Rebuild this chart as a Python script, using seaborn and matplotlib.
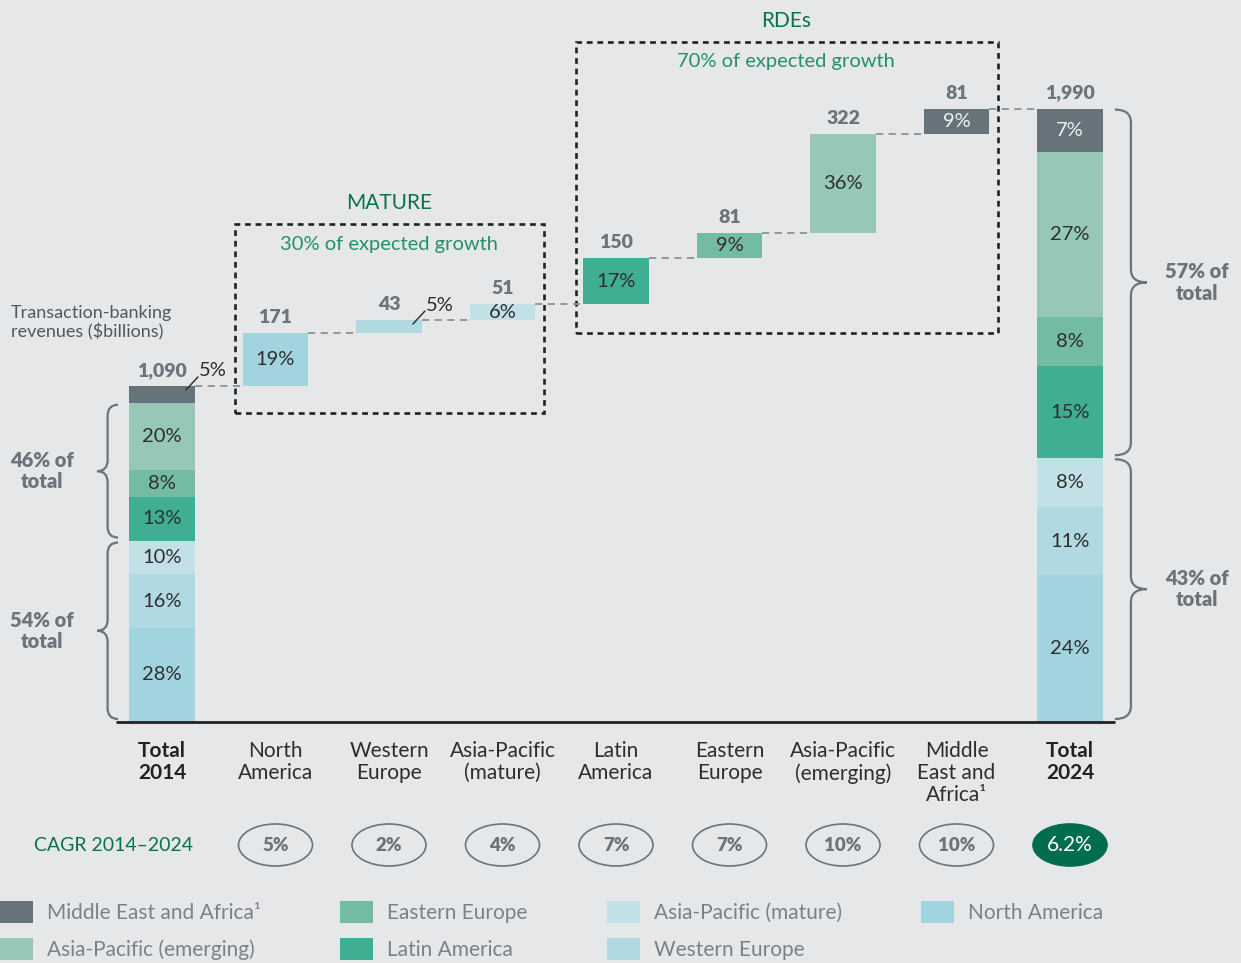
import matplotlib
matplotlib.use("Agg")
import numpy as np
import pandas as pd
import matplotlib.pyplot as plt
from matplotlib.patches import Ellipse, Rectangle, Patch, PathPatch
from matplotlib.path import Path
import seaborn as sns

# ── data ──────────────────────────────────────────────────────────────────────
regions = ["North America", "Western Europe", "Asia-Pacific (mature)", "Latin America",
           "Eastern Europe", "Asia-Pacific (emerging)", "Middle East and Africa¹"]
tick_labels = ["Total\n2014", "North\nAmerica", "Western\nEurope", "Asia-Pacific\n(mature)",
               "Latin\nAmerica", "Eastern\nEurope", "Asia-Pacific\n(emerging)",
               "Middle\nEast and\nAfrica¹", "Total\n2024"]
share_2014 = [28, 16, 10, 13, 8, 20, 5]        # % of 2014 total
share_2024 = [24, 11, 8, 15, 8, 27, 7]         # % of 2024 total
growth = [171, 43, 51, 150, 81, 322, 81]       # $bn added 2014-2024
growth_share = [19, 5, 6, 17, 9, 36, 9]        # % of total growth
total_2014, total_2024 = 1090, 1990
cagr = ["5%", "2%", "4%", "7%", "7%", "10%", "10%", "6.2%"]
brace_left = [("54% of\ntotal", 0, 54), ("46% of\ntotal", 54, 95)]
brace_right = [("43% of\ntotal", 0, 43), ("57% of\ntotal", 43, 100)]

colors = {"North America": "#a2d4e0", "Western Europe": "#b1d9e2",
          "Asia-Pacific (mature)": "#c2e1e7", "Latin America": "#3fae92",
          "Eastern Europe": "#74bba4", "Asia-Pacific (emerging)": "#97c8b7",
          "Middle East and Africa¹": "#67737a"}

BG = "#e6e7e9"
GREY = "#6b747a"
DARK = "#2e2e2e"
GREEN = "#0b7050"
GREEN_LT = "#23906a"

sns.set_theme(style="white")
plt.rcParams["font.family"] = ["Lato", "DejaVu Sans"]

# ── canvas: one axes over the whole figure, x = category index, y = $bn ───────
W, H = 1241, 963
X0PX, STEP = 162, 113.5            # px of first bar centre, px per category
BASE_PX, PPU = 722, 336 / 1090     # baseline px, px per $bn
px = lambda v: v / STEP
py = lambda v: v / PPU

fig = plt.figure(figsize=(W / 100, H / 100), dpi=100, facecolor=BG)
ax = fig.add_axes([0, 0, 1, 1])
ax.set_facecolor(BG)

# ── segments ──────────────────────────────────────────────────────────────────
rows = []
b = 0
for r, s in zip(regions, share_2014):
    h = total_2014 * s / 100
    rows.append(dict(x=0, bottom=b, height=h, region=r, pct=s)); b += h
level = total_2014
for i, (r, g, s) in enumerate(zip(regions, growth, growth_share), start=1):
    rows.append(dict(x=i, bottom=level, height=g, region=r, pct=s)); level += g
b = 0
for r, s in zip(regions, share_2024):
    h = total_2024 * s / 100
    rows.append(dict(x=8, bottom=b, height=h, region=r, pct=s)); b += h
segs = pd.DataFrame(rows)

BAR_W = 0.58
for _, sg in segs.iterrows():
    sns.barplot(x=[sg["x"]], y=[sg["height"]], bottom=sg["bottom"], native_scale=True,
                width=BAR_W, color=colors[sg["region"]], saturation=1, errorbar=None,
                edgecolor="none", linewidth=0, ax=ax)

# percent labels
outside = {(0, "Middle East and Africa¹"), (2, "Western Europe")}
for _, sg in segs.iterrows():
    top = sg["bottom"] + sg["height"]
    if (sg["x"], sg["region"]) in outside:
        x1, y1 = sg["x"] + BAR_W / 2 - px(9), top - py(4)
        x2, y2 = x1 + px(12), y1 + py(13)
        ax.plot([x1, x2], [y1, y2], color="#333333", lw=1.1)
        ax.text(x2 + px(1), y2 + py(6), f"{sg['pct']}%", ha="left", va="center",
                fontsize=14.5, color=DARK)
    else:
        tc = "#eef0f1" if sg["region"].startswith("Middle") else DARK
        ax.text(sg["x"], sg["bottom"] + sg["height"] / 2, f"{sg['pct']}%",
                ha="center", va="center", fontsize=14.5, color=tc)

# value labels + connectors
tops = np.concatenate([[total_2014], total_2014 + np.cumsum(growth)])
vals = [total_2014] + growth + [total_2024]
top_pos = list(tops) + [total_2024]
for i, (v, t) in enumerate(zip(vals, top_pos)):
    ax.text(i, t + py(7), f"{v:,}", ha="center", va="bottom", fontsize=14,
            fontweight="heavy", color=GREY)
for i, t in enumerate(tops):
    ax.hlines(t, i + BAR_W / 2, i + 1 - BAR_W / 2, color="#8c9196", lw=1.3,
              linestyle=(0, (4, 3)))

ax.hlines(0, -0.405, 8.4, color="#222222", lw=2)

# ── group boxes ──────────────────────────────────────────────────────────────
for (first, last, y0, y1, title, sub) in [(1, 3, 1002, 1615, "MATURE", "30% of expected growth"),
                                          (4, 7, 1262, 2206, "RDEs", "70% of expected growth")]:
    x0, x1 = first - 0.355, last + 0.365
    ax.add_patch(Rectangle((x0, y0), x1 - x0, y1 - y0, fill=False, ec="#222222",
                           lw=1.9, ls=(0, (2.2, 1.8))))
    xc = (first + last) / 2
    ax.text(xc, y1 + py(21), title, ha="center", va="center", fontsize=15, color=GREEN)
    ax.text(xc, y1 - py(20), sub, ha="center", va="center", fontsize=14.5, color=GREEN_LT)

# ── braces ───────────────────────────────────────────────────────────────────
def brace(x_end, x_tip, y0, y1, r=py(11)):
    xs = (x_end + x_tip) / 2
    ym = (y0 + y1) / 2
    verts = [(x_end, y1), (xs, y1), (xs, y1 - r),
             (xs, ym + r), (xs, ym), (x_tip, ym),
             (xs, ym), (xs, ym - r),
             (xs, y0 + r), (xs, y0), (x_end, y0)]
    codes = [Path.MOVETO, Path.CURVE3, Path.CURVE3, Path.LINETO, Path.CURVE3, Path.CURVE3,
             Path.CURVE3, Path.CURVE3, Path.LINETO, Path.CURVE3, Path.CURVE3]
    ax.add_patch(PathPatch(Path(verts, codes), fill=False, ec=GREY, lw=1.6))

for label, lo, hi in brace_left:
    y0 = total_2014 * lo / 100 + py(3)
    y1 = total_2014 * hi / 100 - py(2)
    xe = -BAR_W / 2 - px(11)
    brace(xe, xe - px(21), y0, y1)
    ax.text(-1.057, (y0 + y1) / 2, label, ha="center", va="center", fontsize=14.5,
            fontweight="heavy", color=GREY, linespacing=1.15)
for label, lo, hi in brace_right:
    y0 = total_2024 * lo / 100 + py(3)
    y1 = total_2024 * hi / 100 - py(1)
    xe = 8 + BAR_W / 2 + px(12)
    brace(xe, xe + px(32), y0, y1, r=py(13))
    ax.text(9.119, (y0 + y1) / 2, label, ha="center", va="center", fontsize=14.5,
            fontweight="heavy", color=GREY, linespacing=1.15)

ax.text(-1.33, py(BASE_PX - 323), "Transaction-banking\nrevenues ($billions)", ha="left",
        va="center", fontsize=13, color="#4f585e", linespacing=1.15)

# ── category labels ──────────────────────────────────────────────────────────
for i, lab in enumerate(tick_labels):
    bold = i in (0, 8)
    ax.text(i, -py(19), lab, ha="center", va="top", fontsize=15, linespacing=1.13,
            color="#222222" if bold else DARK, fontweight="bold" if bold else "normal")

# ── CAGR row ─────────────────────────────────────────────────────────────────
yc = -py(845 - BASE_PX)
ax.text(-1.128, yc, "CAGR 2014–2024", ha="left", va="center", fontsize=14, color=GREEN)
for i, c in enumerate(cagr, start=1):
    last = i == len(cagr)
    ax.add_patch(Ellipse((i, yc), px(74), py(42), fc="#006d4f" if last else "none",
                         ec="#006d4f" if last else GREY, lw=1.2))
    ax.text(i, yc, c, ha="center", va="center",
            fontsize=15 if last else 13.5, color="white" if last else GREY,
            fontweight="normal" if last else "heavy")

ax.set_xlim(-X0PX / STEP, (W - X0PX) / STEP)
ax.set_ylim(-(H - BASE_PX) / PPU, BASE_PX / PPU)
ax.axis("off")

# ── legend ───────────────────────────────────────────────────────────────────
order = ["Middle East and Africa¹", "Asia-Pacific (emerging)", "Eastern Europe", "Latin America",
         "Asia-Pacific (mature)", "Western Europe", "North America"]
handles = [Patch(facecolor=colors[r], edgecolor="none") for r in order]
fig.legend(handles, order, loc="upper left", bbox_to_anchor=(0, 1 - 901 / H), ncol=4,
           frameon=False, fontsize=15, handlelength=1.59, handleheight=1.25,
           handletextpad=0.67, columnspacing=3.8, labelspacing=0.72, borderpad=0,
           borderaxespad=0, labelcolor="#7a8288")

fig.savefig("out.png", dpi=100, facecolor=BG)
